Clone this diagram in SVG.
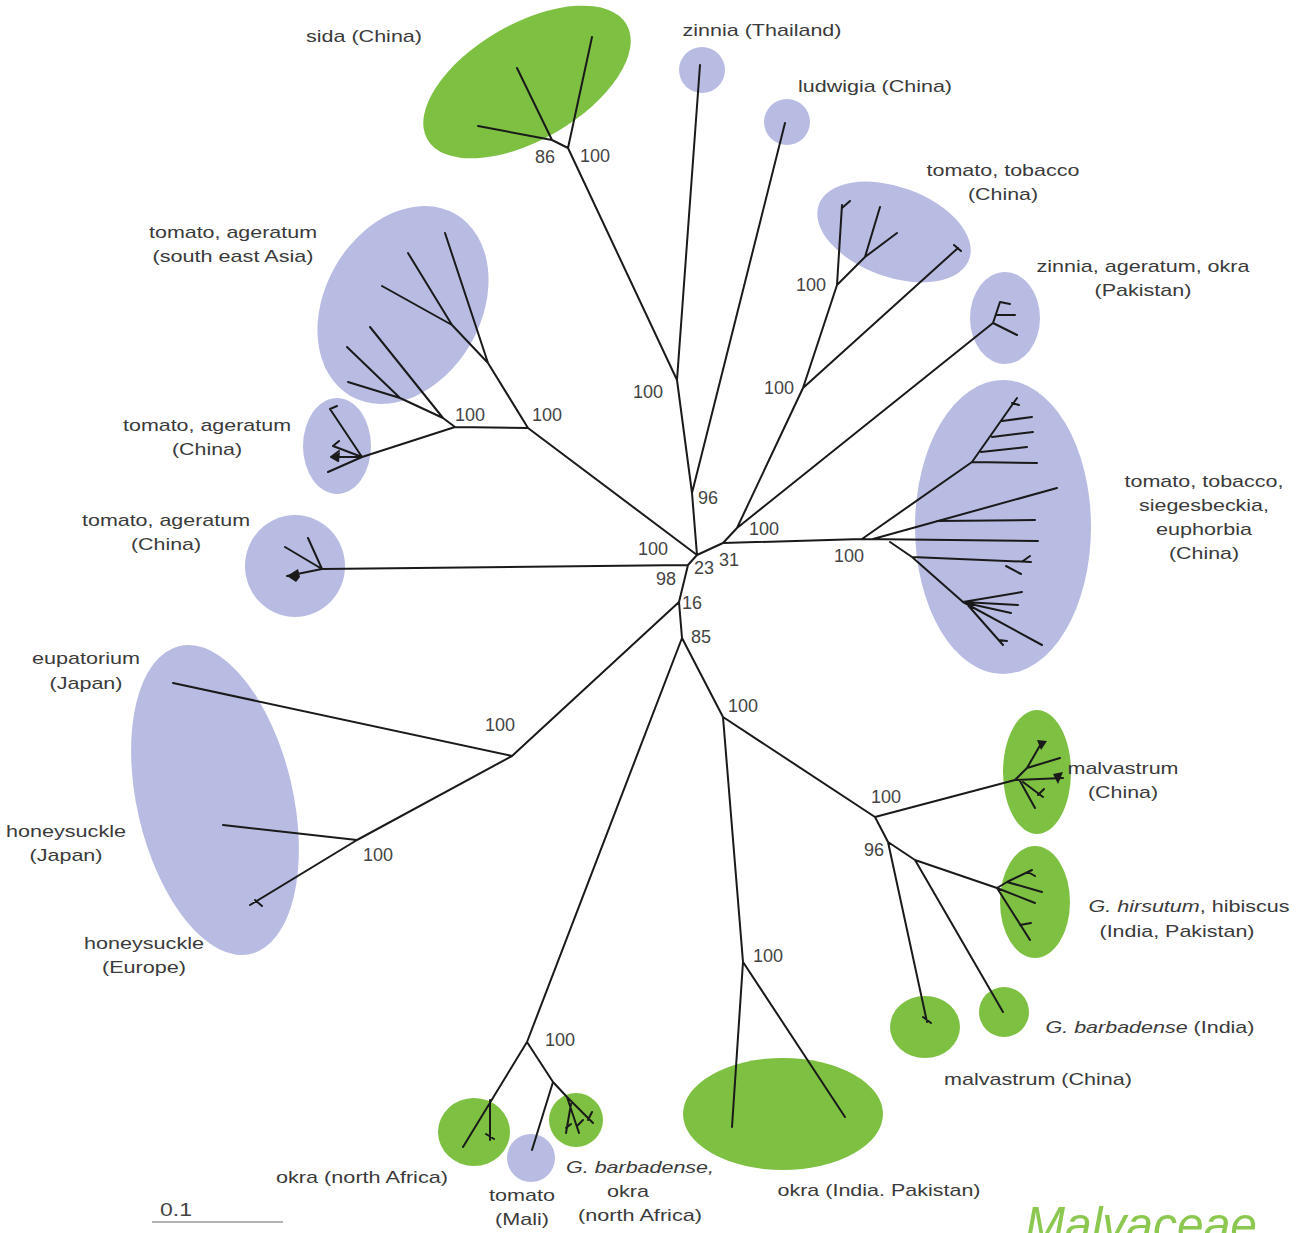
<svg xmlns="http://www.w3.org/2000/svg" width="1297" height="1233" viewBox="0 0 1297 1233">
<style>
.lav{fill:#b8bce2}
.grn{fill:#7dc042}
.br{stroke:#1a1a1a;stroke-width:2;fill:none;stroke-linecap:round;stroke-linejoin:round}
.tuft{fill:#1a1a1a}
.lbl{font-family:"Liberation Sans",Arial,sans-serif;font-size:17px;fill:#3a3a3a;text-anchor:middle}
.bs{font-family:"Liberation Sans",Arial,sans-serif;font-size:18px;fill:#444;text-anchor:middle}
.it{font-style:italic}
</style>
<rect width="1297" height="1233" fill="#ffffff"/>

<g id="clusters">
  <g id="sida"><ellipse class="grn" cx="527" cy="82" rx="115" ry="58" transform="rotate(-30 527 82)"/></g>
  <g id="zinnia-thailand"><circle class="lav" cx="702" cy="70" r="23"/></g>
  <g id="ludwigia"><circle class="lav" cx="787" cy="122" r="23"/></g>
  <g id="tomato-tobacco-china"><ellipse class="lav" cx="894" cy="232" rx="80" ry="45" transform="rotate(20 894 232)"/></g>
  <g id="zao-pakistan"><ellipse class="lav" cx="1005" cy="318" rx="35" ry="46"/></g>
  <g id="ta-sea"><ellipse class="lav" cx="403" cy="305" rx="105" ry="78" transform="rotate(-60 403 305)"/></g>
  <g id="ta-china-mid"><ellipse class="lav" cx="337" cy="446" rx="34" ry="48"/></g>
  <g id="ta-china-low"><ellipse class="lav" cx="295" cy="566" rx="50" ry="51"/></g>
  <g id="ttse-china"><ellipse class="lav" cx="1003" cy="527" rx="88" ry="147"/></g>
  <g id="eup-honey"><ellipse class="lav" cx="215" cy="800" rx="78" ry="158" transform="rotate(-13 215 800)"/></g>
  <g id="tomato-mali"><circle class="lav" cx="531" cy="1158" r="24"/></g>
  <g id="malvastrum-up"><ellipse class="grn" cx="1037" cy="772" rx="34" ry="62"/></g>
  <g id="hirsutum"><ellipse class="grn" cx="1035" cy="902" rx="35" ry="56"/></g>
  <g id="malvastrum-low"><ellipse class="grn" cx="925" cy="1027" rx="35" ry="31"/></g>
  <g id="barb-india"><circle class="grn" cx="1004" cy="1012" r="25"/></g>
  <g id="okra-india"><ellipse class="grn" cx="783" cy="1114" rx="100" ry="56"/></g>
  <g id="okra-nafrica"><ellipse class="grn" cx="474" cy="1132" rx="36" ry="34"/></g>
  <g id="barb-nafrica"><circle class="grn" cx="576" cy="1120" r="27"/></g>
</g>

<g id="connectors">
  <path class="br" d="
  M697,555 L692,493 M692,493 L785,123 M692,493 L677,380 M677,380 L700,65 M677,380 L568,148
  M568,148 L592,37 M568,148 L552,140 M552,140 L517,68 M552,140 L478,126
  M697,555 L528,428 M528,428 L488,363 L445,233 M488,363 L452,325 L408,253 M452,325 L382,286
  M528,428 L455,427 M455,427 L443,418 L370,327 M443,418 L400,398 L347,347 M400,398 L348,382
  M455,427 L362,457 M362,457 L330,409 M330,409 L337,406 M362,457 L333,446 M333,446 L339,441
  M362,457 L331,457 M331,457 L339,451 M331,457 L338,461 M362,457 L328,472
  M697,555 L688,565 M688,565 L322,569 L287,576 M322,569 L285,547 M322,569 L308,538
  M688,565 L679,602 M679,602 L512,756 M512,756 L173,683 M512,756 L357,840 M357,840 L223,825
  M357,840 L250,905 M255,900 L262,906
  M679,602 L682,638 M682,638 L527,1042 M527,1042 L463,1147 M490,1100 L490,1140 M486,1134 L494,1139
  M527,1042 L553,1082 L567,1097 L593,1123 M553,1082 L532,1150 M567,1097 L579,1133 M571,1104 L566,1133
  M588,1120 L592,1112 M577,1126 L583,1120 M566,1128 L571,1124
  M682,638 L723,717 M723,717 L743,962 M743,962 L732,1127 M743,962 L845,1117
  M723,717 L875,817 M875,817 L1015,780 M875,817 L888,842 M888,842 L927,1022 M923,1017 L931,1023
  M888,842 L915,860 M915,860 L997,888 M915,860 L1003,1012
  M1015,780 L1027,768 L1042,742 M1027,768 L1060,758 M1015,780 L1063,778 M1020,781 L1035,808 M1023,782 L1043,797
  M1038,795 L1044,789
  M997,888 L1007,882 L1032,870 M1028,872 L1035,876 M1007,882 L1042,892 M997,888 L1035,903 M997,888 L1030,940 M1020,925 L1031,923
  M697,555 L723,543 M723,543 L862,539 M723,543 L737,528 M737,528 L803,388 M803,388 L837,285
  M837,285 L842,205 M842,208 L850,201 M837,285 L865,257 M865,257 L880,207 M865,257 L897,233
  M803,388 L958,248 M954,245 L961,251
  M737,528 L993,323 M993,323 L1000,302 L1010,304 M997,315 L1015,315 M993,323 L1017,335
  M862,539 L972,462 L1017,398 M1002,421 L1032,417 M992,437 L1033,432 M981,452 L1027,447 M972,462 L1037,463
  M1012,403 L1019,405
  M873,539 L1057,488 M937,521 L1035,520
  M862,539 L1038,541
  M890,542 L912,557 L1031,562 M1006,566 L1021,574 M1023,561 L1030,556
  M912,557 L963,602 L1042,645 M963,602 L1022,592 M963,602 L1018,605 M966,603 L1011,613
  M966,603 L1003,645 M999,640 L1007,641
  "/>
  <polygon class="tuft" points="287,576 298,569 300,577 296,582"/>
  <polygon class="tuft" points="1037,740 1047,741 1041,750"/>
  <polygon class="tuft" points="1053,774 1063,772 1058,784"/>
  <polygon class="tuft" points="331,457 340,452 339,462"/>
</g>

<g id="bootstrap">
  <text class="bs" x="545" y="163">86</text>
  <text class="bs" x="595" y="162">100</text>
  <text class="bs" x="811" y="291">100</text>
  <text class="bs" x="779" y="394">100</text>
  <text class="bs" x="648" y="398">100</text>
  <text class="bs" x="470" y="421">100</text>
  <text class="bs" x="547" y="421">100</text>
  <text class="bs" x="708" y="504">96</text>
  <text class="bs" x="653" y="555">100</text>
  <text class="bs" x="764" y="535">100</text>
  <text class="bs" x="704" y="574">23</text>
  <text class="bs" x="729" y="566">31</text>
  <text class="bs" x="666" y="585">98</text>
  <text class="bs" x="692" y="609">16</text>
  <text class="bs" x="701" y="643">85</text>
  <text class="bs" x="743" y="712">100</text>
  <text class="bs" x="500" y="731">100</text>
  <text class="bs" x="886" y="803">100</text>
  <text class="bs" x="874" y="856">96</text>
  <text class="bs" x="378" y="861">100</text>
  <text class="bs" x="849" y="562">100</text>
  <text class="bs" x="768" y="962">100</text>
  <text class="bs" x="560" y="1046">100</text>
</g>

<g id="labels">
  <text class="lbl" x="364" y="42" textLength="116" lengthAdjust="spacingAndGlyphs">sida (China)</text>
  <text class="lbl" x="762" y="36" textLength="159" lengthAdjust="spacingAndGlyphs">zinnia (Thailand)</text>
  <text class="lbl" x="875" y="92" textLength="154" lengthAdjust="spacingAndGlyphs">ludwigia (China)</text>
  <text class="lbl" x="1003" y="176" textLength="153" lengthAdjust="spacingAndGlyphs">tomato, tobacco</text>
  <text class="lbl" x="1003" y="200" textLength="70" lengthAdjust="spacingAndGlyphs">(China)</text>
  <text class="lbl" x="1143" y="272" textLength="213" lengthAdjust="spacingAndGlyphs">zinnia, ageratum, okra</text>
  <text class="lbl" x="1143" y="296" textLength="97" lengthAdjust="spacingAndGlyphs">(Pakistan)</text>
  <text class="lbl" x="233" y="238" textLength="168" lengthAdjust="spacingAndGlyphs">tomato, ageratum</text>
  <text class="lbl" x="233" y="262" textLength="161" lengthAdjust="spacingAndGlyphs">(south east Asia)</text>
  <text class="lbl" x="207" y="431" textLength="168" lengthAdjust="spacingAndGlyphs">tomato, ageratum</text>
  <text class="lbl" x="207" y="455" textLength="70" lengthAdjust="spacingAndGlyphs">(China)</text>
  <text class="lbl" x="166" y="526" textLength="168" lengthAdjust="spacingAndGlyphs">tomato, ageratum</text>
  <text class="lbl" x="166" y="550" textLength="70" lengthAdjust="spacingAndGlyphs">(China)</text>
  <text class="lbl" x="1204" y="487" textLength="159" lengthAdjust="spacingAndGlyphs">tomato, tobacco,</text>
  <text class="lbl" x="1204" y="511" textLength="130" lengthAdjust="spacingAndGlyphs">siegesbeckia,</text>
  <text class="lbl" x="1204" y="535" textLength="96" lengthAdjust="spacingAndGlyphs">euphorbia</text>
  <text class="lbl" x="1204" y="559" textLength="70" lengthAdjust="spacingAndGlyphs">(China)</text>
  <text class="lbl" x="86" y="664" textLength="108" lengthAdjust="spacingAndGlyphs">eupatorium</text>
  <text class="lbl" x="86" y="689" textLength="73" lengthAdjust="spacingAndGlyphs">(Japan)</text>
  <text class="lbl" x="66" y="837" textLength="120" lengthAdjust="spacingAndGlyphs">honeysuckle</text>
  <text class="lbl" x="66" y="861" textLength="73" lengthAdjust="spacingAndGlyphs">(Japan)</text>
  <text class="lbl" x="144" y="949" textLength="120" lengthAdjust="spacingAndGlyphs">honeysuckle</text>
  <text class="lbl" x="144" y="973" textLength="84" lengthAdjust="spacingAndGlyphs">(Europe)</text>
  <text class="lbl" x="1123" y="774" textLength="111" lengthAdjust="spacingAndGlyphs">malvastrum</text>
  <text class="lbl" x="1123" y="798" textLength="70" lengthAdjust="spacingAndGlyphs">(China)</text>
  <text class="lbl" x="1189" y="912" textLength="201" lengthAdjust="spacingAndGlyphs"><tspan class="it">G. hirsutum</tspan>, hibiscus</text>
  <text class="lbl" x="1177" y="937" textLength="155" lengthAdjust="spacingAndGlyphs">(India, Pakistan)</text>
  <text class="lbl" x="1150" y="1033" textLength="209" lengthAdjust="spacingAndGlyphs"><tspan class="it">G. barbadense</tspan> (India)</text>
  <text class="lbl" x="1038" y="1085" textLength="188" lengthAdjust="spacingAndGlyphs">malvastrum (China)</text>
  <text class="lbl" x="879" y="1196" textLength="203" lengthAdjust="spacingAndGlyphs">okra (India. Pakistan)</text>
  <text class="lbl" x="362" y="1183" textLength="172" lengthAdjust="spacingAndGlyphs">okra (north Africa)</text>
  <text class="lbl" x="522" y="1201" textLength="66" lengthAdjust="spacingAndGlyphs">tomato</text>
  <text class="lbl" x="522" y="1225" textLength="54" lengthAdjust="spacingAndGlyphs">(Mali)</text>
  <text class="lbl it" x="640" y="1173" textLength="148" lengthAdjust="spacingAndGlyphs">G. barbadense,</text>
  <text class="lbl" x="628" y="1197" textLength="42" lengthAdjust="spacingAndGlyphs">okra</text>
  <text class="lbl" x="640" y="1221" textLength="124" lengthAdjust="spacingAndGlyphs">(north Africa)</text>
</g>

<g id="scale">
  <line x1="152" y1="1222" x2="283" y2="1222" stroke="#9a9a9a" stroke-width="1.5"/>
  <text class="bs" x="176" y="1216" textLength="32" lengthAdjust="spacingAndGlyphs">0.1</text>
</g>

<g id="family">
  <text x="1025" y="1242" font-family="'Liberation Sans',Arial,sans-serif" font-size="50" font-style="italic" fill="#8cc850" textLength="232" lengthAdjust="spacingAndGlyphs">Malvaceae</text>
</g>
</svg>
